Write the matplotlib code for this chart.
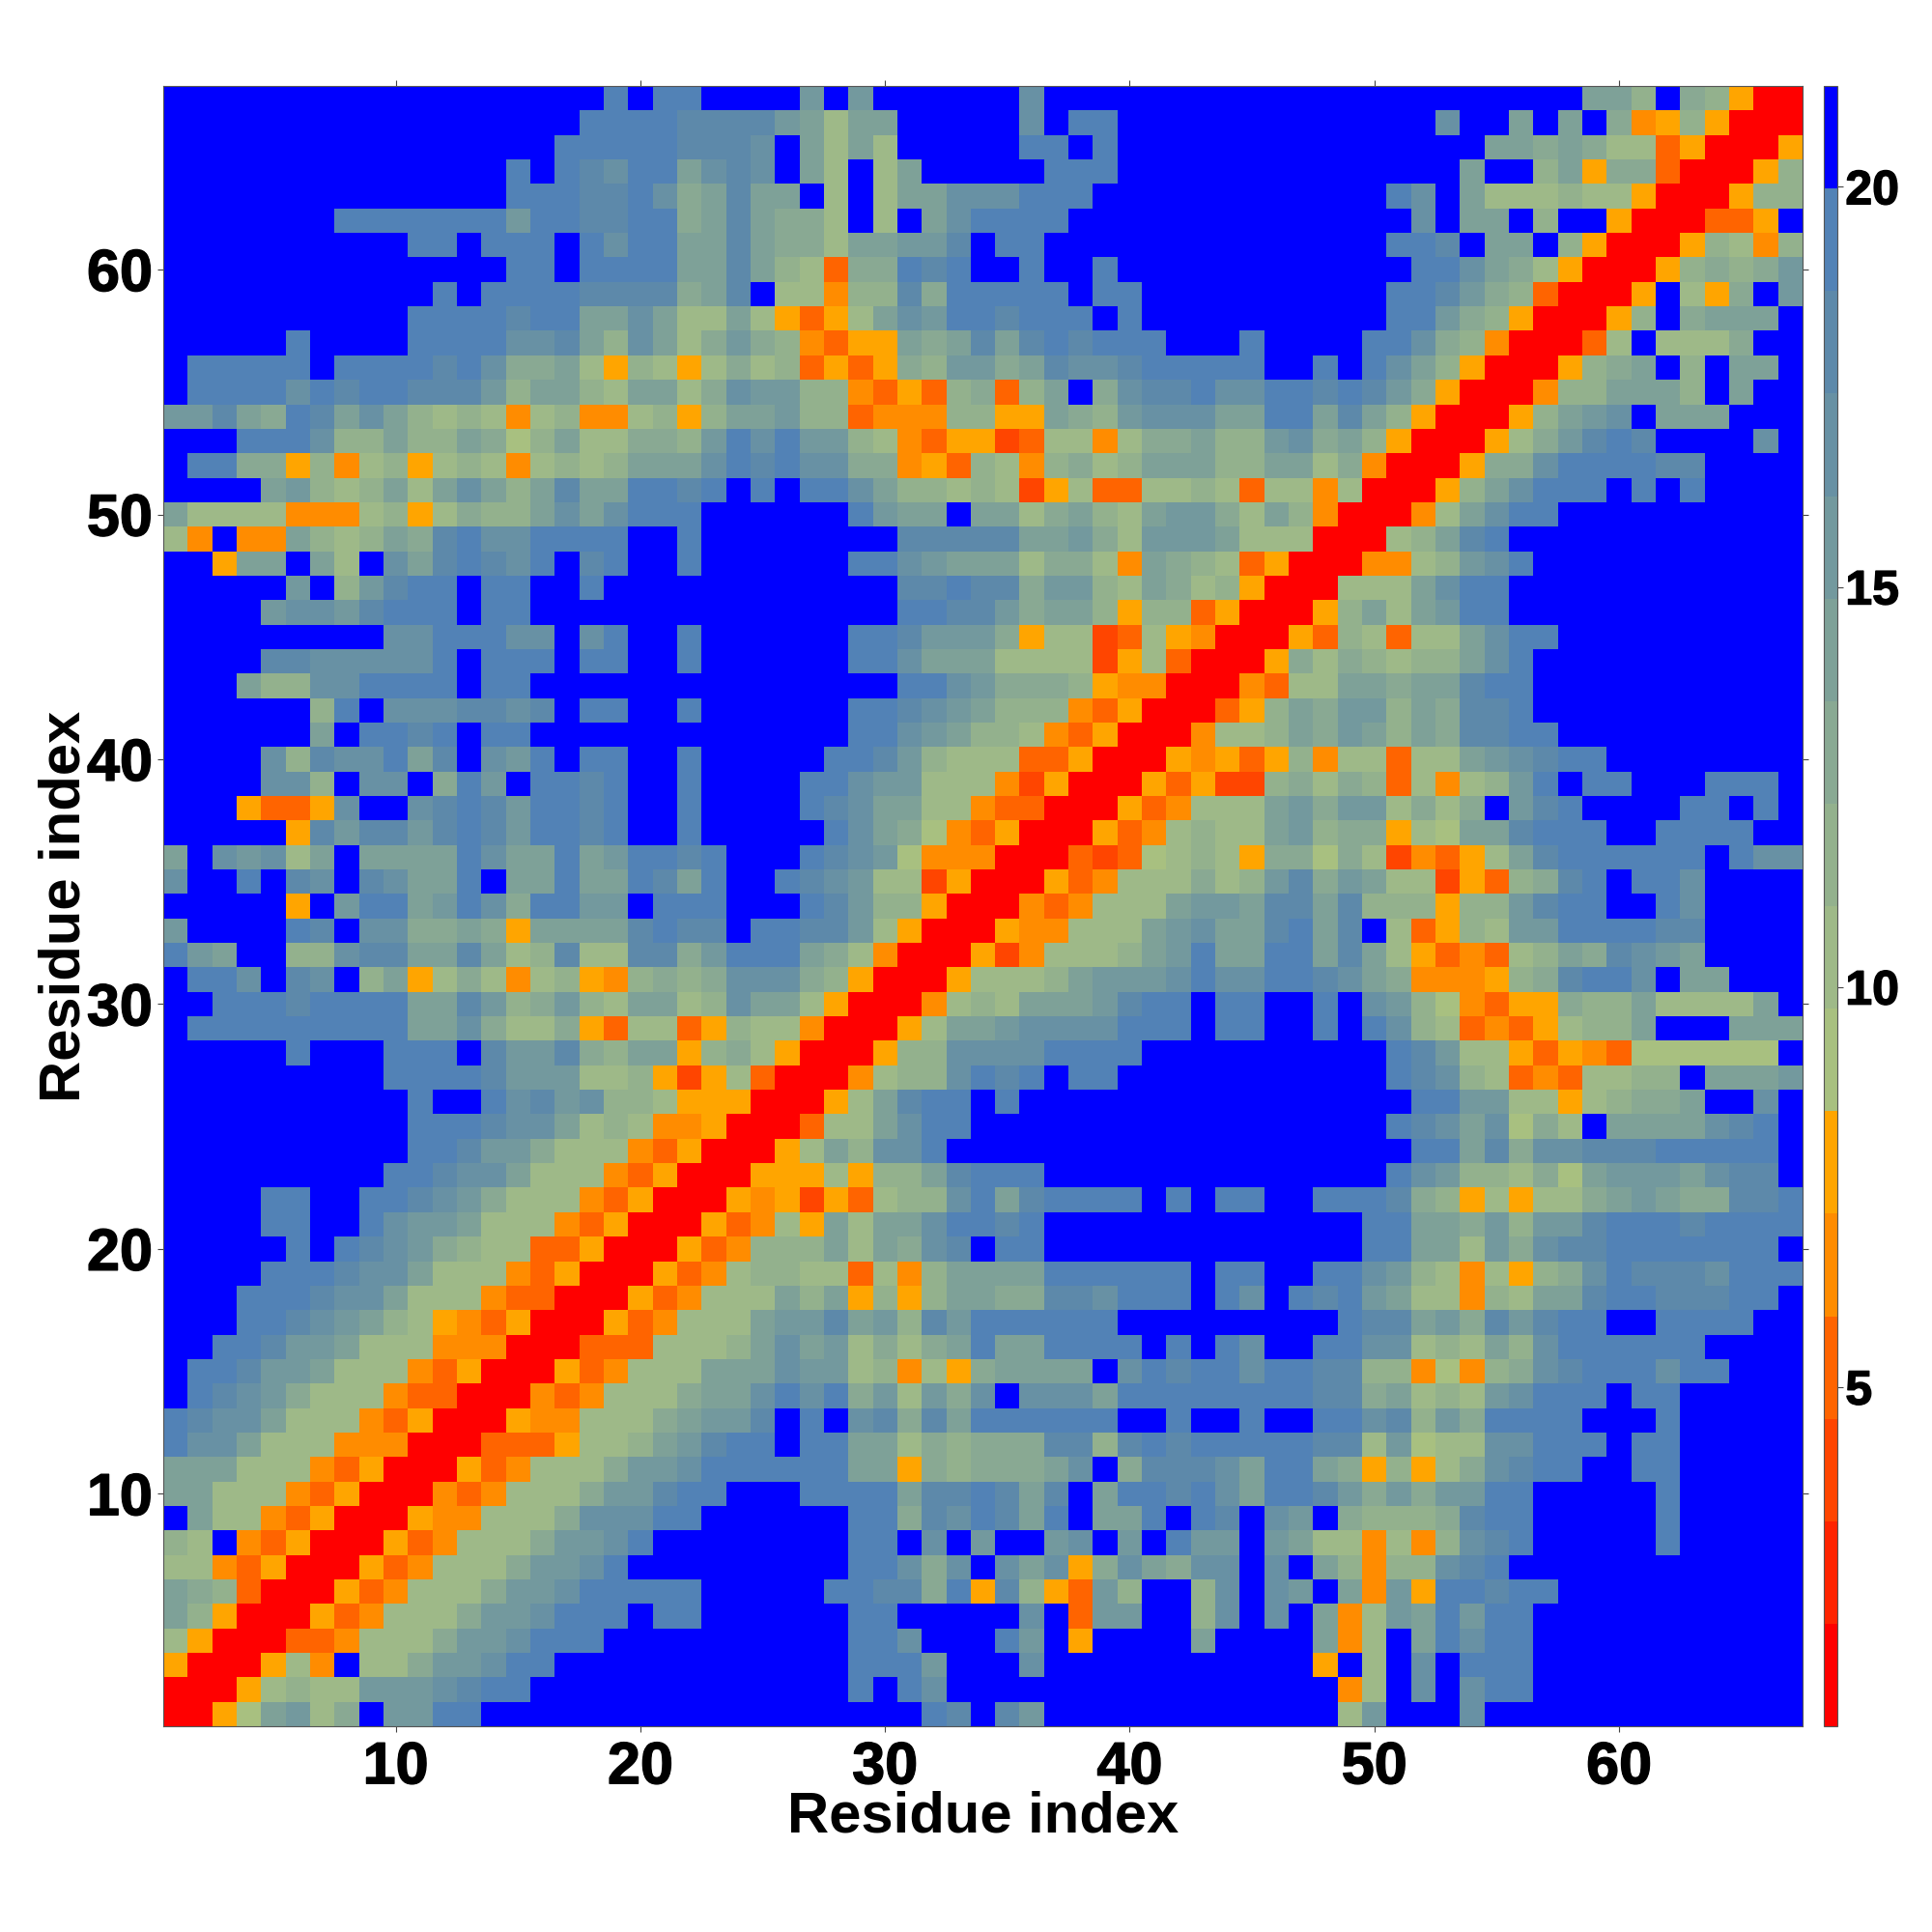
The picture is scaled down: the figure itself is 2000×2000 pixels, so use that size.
import numpy as np
import matplotlib
matplotlib.use("Agg")
import matplotlib.pyplot as plt
import matplotlib.patheffects as pe
from matplotlib.colors import ListedColormap, BoundaryNorm

# distance bands, one hex digit per residue, top row of the map first
# columns 1-23
left_cols = [
    "ffffffffffffffffffefeef", "fffffffffffffffffeeeedd", "ffffffffffffffffeeeeedd", "ffffffffffffffefedceeac",
    "ffffffffffffffeeeddec9a", "fffffffeeeeeeebeeddee9a", "ffffffffffeefeeefeceeaa", "ffffffffffffffeefeeeeaa",
    "fffffffffffefeeeedddd9a", "ffffffffffeeeedeeaaca77", "fffffeffffeeeeccda8ca79", "feeeeefeeeedec99a758757",
    "feeeecedeedddb8aa87aa79", "bbda9edaca8787478447858", "fffeeec88a88a968a77998b", "fee9958478578747878aaac",
    "ffffab878a7aca8adaaeede", "a77774447857988acaceeef", "74f44a878a9decceeeeffef", "ff5aafa7fcadedcefdeffef",
    "fffffbf8bdeefeeffefffff", "ffffbccbdeeefeeffffffff", "fffffffffcceeeccfceffef", "ffffddcccccefeeefeeffef",
    "fffa88cceeeefeeffffffff", "ffffff8efcccddcdfeeffef", "ffffffafeedefeeffffffff", "ffffc8dcceadfcbefeeffef",
    "ffffcc8fccf9ebfeedeffef", "fff5335cffcdedbeedeffef", "fffff5dbddbdedbeedeffef", "afcbc7afaaaaecaaeabeede",
    "cffefdcfdcaaefaaeaaedae", "fffff5fbeeabec9eebbfeee", "bffffedfcc99a95aaaadedd", "ebaff88cddaada78d77dd9b",
    "feecfdcf8a5797478548989", "ffeeedeeeeaadb89b87aa78", "feeeeeeeeeaac9779537735", "fffffefffeeefdbbd98aa58",
    "fffffffffeeeedbbb778525", "ffffffffffeffecdbc88755", "ffffffffffeeedcca787445", "ffffffffffeedbb97774350",
    "fffffffffeedcca77743500", "ffffeeffeedcb9777435000", "ffffeeffecbba7774350005", "fffffefedcb987733500053",
    "ffffeeedcca777435000534", "fffeeedcca7774330005347", "fffeedcba87543500053477", "ffeedbba777444000333777",
    "feedbba777435000534777a", "fedcb97774330004347779a", "edcca7774350005447779ab", "ecca7774440003335778abd",
    "aaa7774350005347779bbce", "aa7774350004347779bbdee", "fa774350005447779ccceef", "87f4350005347779bbcefff",
    "774350005347779bbceffff", "a9830005347779bbceeeeef", "a850005347779bbceeefeef", "750003347779bbceeefffff",
    "5000574f779bbceefffffff", "00057877bbbcdeeffffffff", "0056ab79fbbeeffffffffff",
]
# columns 24-44
mid_cols = [
    "fffbfbffffffcffffffff", "ddba7aafffffcfeefffff", "dcfa7a7fffffeefefffff", "dcfa7f7afffffeeefffff",
    "daaf7f7aaccceeeffffff", "da997f7faceeeefffffff", "da997aabbdfeeffffffff", "da87399edeffeffefffff",
    "df77488d9eeeeefeeffff", "a75357acbeedeeefeffff", "b984355a9adadedeeefff", "978353598bb9adccdeeee",
    "cbb8843538938af9cddec", "aab8834448855a98bccca", "ecebb87435523774799a8", "edecc994538748978aaa8",
    "fefeeca88787257337787", "fffffebaafaa79a87abb9", "fffffffdddddaab97bbba", "fffffeecbaaa79974a987",
    "fffffffddedd9bb87a978", "fffffffeeddb9aa858835", "fffffeedbbb9577237540", "fffffeecaaa7777257300",
    "fffffffeecb9998544000", "fffffeedcba8884350003", "fffffeecba88743500047", "ffffeedb8777335000545",
    "fffeecbb7774250005352", "fffedcaa7743300053477", "ffffeca96435000534787", "fffedcb64440003236787",
    "ffedcb772500053477797", "fffedb885000434777abb", "feeddb75000544777abca", "eeea9740005247778abea",
    "ccc98500057778abbbcec", "caa750004787aaabdeefe", "877400057aabcccceeefe", "975000588cccceeeeffff",
    "730004788cedefeefffff", "500057adeefefffffffff", "000377aceefffffffffff", "0057a8cceffffffffffff",
    "05557588adeeeffffffff", "545253788ceadeeeefefe", "3475a7aaceedeffffffff", "4888a7a9cdfeeffffffff",
    "788773748aaaaeeeeeefe", "77a8a5858aa99ddceeefe", "7abbdab8dbeeeeeefffff", "8acab7979aeaaeeeefefe",
    "aacbb784759aaaafcedee", "acece9b7b9cfcccaeeeee", "bdfefcd9daeeeeeeffeff", "eefeeaa798999dd8dedee",
    "eeeeeaa598999acf9dddc", "fffeeeeaddedadfaeedec", "fffffee9dcedaefaaefed", "fffffeefcfbffbcfbfebb",
    "fffffeec9cfcac59ca9cc", "ffffeedd9e5d853b8ff8c", "fffffeefffffcf3bbff8c", "fffffeecfffebf5ffffaf",
    "fffffeeebfffcffffffff", "fffffefecffffffffffff", "ffffffffedfdbffffffff",
]
# columns 45-67
right_cols = [
    "ffffffffffffffaa8f98500", "ffffffffcffafaf94585000", "ffffffffffaa9a977350005", "fffffffffaff8a599300058",
    "ffffffecfa7778775000588", "fffffffcfaaf8ff5000335f", "ffffffeedfaaf8500058748", "fffffffeeca97500058989b",
    "ffffffeedb9830005f759fb", "ffffffeeb98500058f9aaaf", "effffeec98400037f7779ff", "effefeca85000589af8faaf",
    "ceededb95000488aaa8faff", "aeeada8500058abcfaaafff", "8bc9a85000579bdedffffcf", "8aa794000599ceeeeddffff",
    "3774700058aceeefefeffff", "7a8400047aceeffffffffff", "77700078adeffffffffffff", "350004478bcefffffffffff",
    "5000777aceeffffffffffff", "00058a7abeeffffffffffff", "005387377aceeffffffffff", "059798788acefffffffffff",
    "4377aa9aadeefffffffffff", "58a9bb8a9ddefffffffffff", "78a9ba8a9ddeeffffffffff", "358477377abcdeeffffffff",
    "28979837478befeefffeeef", "7ab9bb7979fbdeffffeefef", "7ab899576aadeeeffeeeeff", "59969724357adeeeeeefecc",
    "8bd9ba7725389defeecffff", "addad888588bdeeffecffff", "adeadf73587bbeeeeddffff", "aeeada7534378a9dcbaffff",
    "ceedca9444589deecfaafff", "effefcb864355988a7777af", "effefec873435788afffaaa", "ffffffedb7753543666666f",
    "ffffffedc873437788faaab", "fffffffeebb7757899affcf", "ffffffedcac697faaaacdef", "fffffffeead9ccdddeeeeef",
    "ffffffecb88796abbbacddf", "effeeed98575779aba99dde", "fffffeeaa9b8bbdeeedeeee", "fffffeeaa7b9cddeeeeeeef",
    "effeecb8747589cedddceee", "cfedeba77487aadeedddeef", "ffffeddab9dbdeeffeeeeff", "cffeecc787a8ceeeeeeffff",
    "ceedd8846489cdeeeceefff", "eeedd9a787bceeefeefffff", "effeecd8b9eeeefffefffff", "eeedd7b677cceeefeefffff",
    "aeea958579cdeeffeefffff", "aeedb9b9bbeefffffefffff", "fcbf98889deefffffefffff", "fba774748cdefffffefffff",
    "fcfa8488cdeffffffffffff", "fcbfa4b5eedeeffffffffff", "fcfa47baebeefffffffffff", "fffa47faeceefffffffffff",
    "fff5f7fcfeeefffffffffff", "ffff47fcfceefffffffffff", "ffff7bfffcfffffffffffff",
]

band_colors = ["#FF0000", "#FF2400", "#FF4500", "#FF6400", "#FF8C00", "#FFA500",
               "#A8C080", "#9EB988", "#93B18D", "#89A993", "#7EA198", "#73999E",
               "#6891A4", "#5D89AA", "#5282B6", "#0000FF"]
axis_ticks = [10, 20, 30, 40, 50, 60]
bar_ticks = [5, 10, 15, 20]
v_min = 0.76
v_max = 21.26

rows = [a + b + c for a, b, c in zip(left_cols, mid_cols, right_cols)]
for i, r in enumerate(rows):
    assert len(r) == 67, (i + 1, len(r))

edges = np.linspace(v_min, v_max, len(band_colors) + 1)
centres = (edges[:-1] + edges[1:]) / 2
levels = np.array([[int(ch, 16) for ch in r] for r in rows])
dist = centres[levels][::-1]

plt.rcParams['font.family'] = ['Liberation Sans', 'DejaVu Sans']
plt.rcParams['font.weight'] = 'bold'

W = 2000.0
fig = plt.figure(figsize=(20, 20), dpi=100)
ax = fig.add_axes([169 / W, 1 - 1787 / W, 1697 / W, 1698 / W])
cax = fig.add_axes([1888 / W, 1 - 1787 / W, 14 / W, 1698 / W])

cmap = ListedColormap(band_colors)
norm = BoundaryNorm(edges, cmap.N)
im = ax.imshow(dist, origin='lower', extent=(0.5, 67.5, 0.5, 67.5), cmap=cmap, norm=norm,
               interpolation='nearest', aspect='auto')

ax.set_xticks(axis_ticks)
ax.set_yticks(axis_ticks)
ax.tick_params(axis='both', which='major', direction='out', length=4.5, width=0.8, color='#444444',
               top=True, right=True, labelsize=44)
ax.tick_params(axis='x', pad=6.5)
ax.tick_params(axis='y', pad=3.5)
ax.set_xlabel("Residue index", fontsize=43, fontweight='bold', labelpad=-4)
ax.set_ylabel("Residue index", fontsize=43, fontweight='bold', labelpad=-3)
for s in ax.spines.values():
    s.set_linewidth(0.8)
    s.set_color('#555555')

cb = fig.colorbar(im, cax=cax, ticks=bar_ticks, spacing='proportional', drawedges=False)
cb.ax.set_yticklabels([str(t) for t in bar_ticks])
cb.ax.tick_params(length=4.5, width=0.8, color='#444444', labelsize=36, pad=1.5)
cb.ax.minorticks_off()
cb.outline.set_linewidth(0.8)
cb.outline.set_edgecolor('#555555')

# the reference digits are a touch heavier than Liberation bold
heavy = [pe.withStroke(linewidth=1.0, foreground='black')]
for t in ax.get_xticklabels() + ax.get_yticklabels() + cb.ax.get_yticklabels():
    t.set_path_effects(heavy)

fig.savefig("out.png", dpi=100, facecolor='white')
